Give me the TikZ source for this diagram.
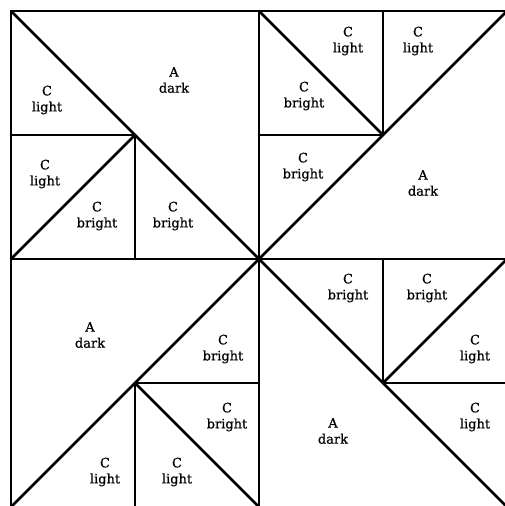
\documentclass[tikz,border=0pt]{standalone}
\usepackage{fontspec}
\setmainfont{DejaVu Serif}
\newfontfamily\patchfont[FakeBold=0.6]{DejaVu Serif}
\usepackage{tikz}
\usetikzlibrary{positioning}
\tikzset{
  seam/.style={line width=2.6pt,line cap=round,line join=round},
  patch/.style={align=center,inner sep=0pt,font=\patchfont\fontsize{13}{16}\selectfont}
}

\begin{document}
\begin{tikzpicture}[x=1pt,y=-1pt]
\useasboundingbox (0,0) rectangle (504,506);
% corners and midpoints of the block
\coordinate (tl) at (11,11);  \coordinate (tm) at (259,11);  \coordinate (tr) at (507,11);
\coordinate (ml) at (11,259); \coordinate (c) at (259,259);  \coordinate (mr) at (507,259);
\coordinate (bl) at (11,507); \coordinate (bm) at (259,507); \coordinate (br) at (507,507);
\coordinate (q1) at (135,135); \coordinate (q2) at (383,135);
\coordinate (q3) at (135,383); \coordinate (q4) at (383,383);
% outline and centre cross
\draw[seam] (tl)--(tr)--(br)--(bl)--cycle;
\draw[seam] (tm)--(bm); \draw[seam] (ml)--(mr);
% top left
\draw[seam] (tl)--(c); \draw[seam] (q1)--(ml);
\draw[seam] (q1)--(tl|-q1); \draw[seam] (q1)--(q1|-c);
% top right
\draw[seam] (c)--(tr); \draw[seam] (tm)--(q2);
\draw[seam] (q2)--(q2|-tm); \draw[seam] (q2)--(tm|-q2);
% bottom left
\draw[seam] (c)--(bl); \draw[seam] (q3)--(bm);
\draw[seam] (q3)--(c|-q3); \draw[seam] (q3)--(q3|-bm);
% bottom right
\draw[seam] (c)--(br); \draw[seam] (q4)--(mr);
\draw[seam] (q4)--(q4|-c); \draw[seam] (q4)--(mr|-q4);
% labels
\node[patch] (tlA) at (174,80) {A\\dark};
\node[patch] (tlC1) at (47,100) {C\\light};
\node[patch] (tlC2) at (45,174) {C\\light};
\node[patch] (tlC3) at (97,216) {C\\bright};
\node[patch] (tlC4) at (173,216) {C\\bright};
\node[patch] (trC1) at (348,41) {C\\light};
\node[patch] (trC2) at (418,41) {C\\light};
\node[patch] (trC3) at (304,96) {C\\bright};
\node[patch] (trC4) at (303,167) {C\\bright};
\node[patch] (trA) at (423,183) {A\\dark};
\node[patch] (blA) at (90,335) {A\\dark};
\node[patch] (blC1) at (223,349) {C\\bright};
\node[patch] (blC2) at (227,417) {C\\bright};
\node[patch] (blC3) at (105,472) {C\\light};
\node[patch] (blC4) at (177,472) {C\\light};
\node[patch] (brC1) at (348,288) {C\\bright};
\node[patch] (brC2) at (427,288) {C\\bright};
\node[patch] (brC3) at (475,349) {C\\light};
\node[patch] (brC4) at (475,417) {C\\light};
\node[patch] (brA) at (333,431) {A\\dark};
\end{tikzpicture}
\end{document}
